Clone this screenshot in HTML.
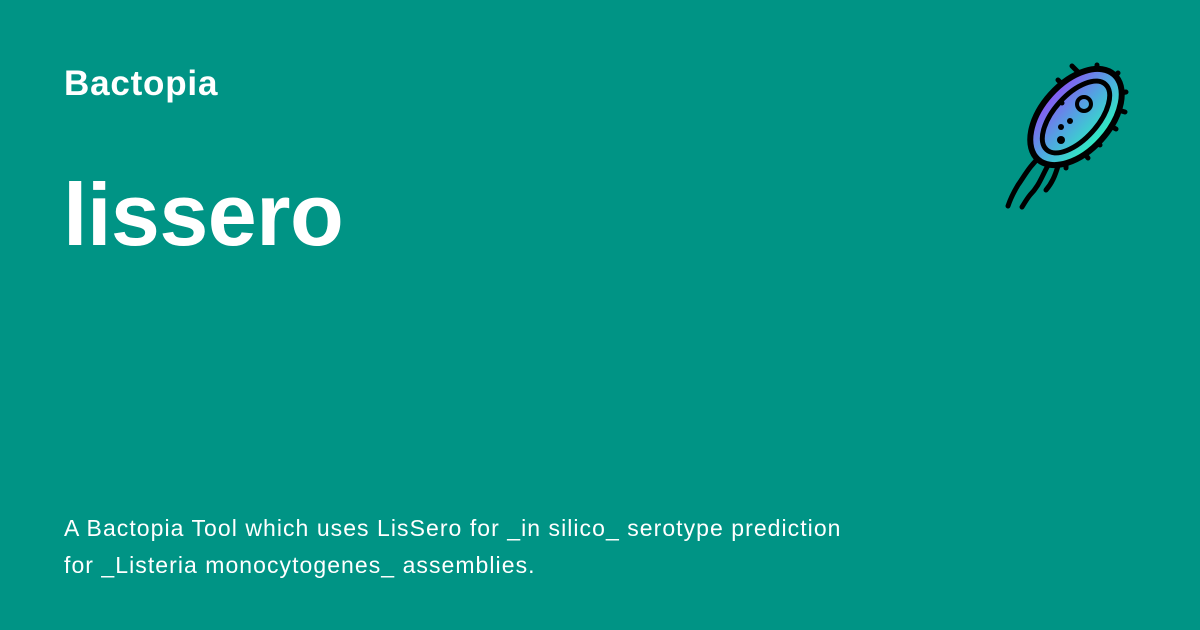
<!DOCTYPE html>
<html><head><meta charset="utf-8"><style>
html,body{margin:0;padding:0}
body{width:1200px;height:630px;background:#009485;position:relative;overflow:hidden;font-family:"Liberation Sans",sans-serif;color:#fff}
.b{position:absolute;left:64px;top:64px;font-size:35px;font-weight:bold;letter-spacing:0.8px}
.t{position:absolute;left:63px;top:164px;font-size:88px;font-weight:bold;letter-spacing:-0.5px}
.d{position:absolute;left:64px;top:510px;font-size:23px;line-height:37px;letter-spacing:1.05px}
</style></head><body>
<div class="b">Bactopia</div>
<div class="t">lissero</div>
<div class="d">A Bactopia Tool which uses LisSero for _in silico_ serotype prediction<br>for _Listeria monocytogenes_ assemblies.</div>
<svg style="position:absolute;left:0;top:0" width="1200" height="630">
<defs><linearGradient id="g" x1="0" y1="0" x2="0" y2="1">
<stop offset="0" stop-color="#8a55f5"/><stop offset="0.5" stop-color="#4fa8e0"/><stop offset="1" stop-color="#2ef0c0"/></linearGradient></defs>
<g stroke="#000" stroke-width="5" stroke-linecap="round" fill="none">
<path d="M1042 155 C1030 165 1025 175 1018 185 C1012 195 1010 200 1008 206"/>
<path d="M1050 162 C1042 175 1040 185 1030 195 C1026 200 1024 204 1022 207"/>
<path d="M1058 166 C1055 176 1052 183 1046 190"/>
<line x1="1072" y1="66" x2="1078" y2="72"/><line x1="1097" y1="65" x2="1097" y2="72"/>
<line x1="1118" y1="73" x2="1113" y2="78"/><line x1="1126" y1="92" x2="1120" y2="93"/>
<line x1="1125" y1="112" x2="1118" y2="110"/><line x1="1116" y1="129" x2="1109" y2="125"/>
<line x1="1100" y1="145" x2="1095" y2="140"/><line x1="1088" y1="158" x2="1084" y2="153"/>
<line x1="1058" y1="80" x2="1064" y2="86"/><line x1="1046" y1="100" x2="1053" y2="103"/>
<line x1="1033" y1="127" x2="1040" y2="127"/><line x1="1066" y1="168" x2="1066" y2="162"/>
</g>
<g transform="translate(1076,117) rotate(-48)">
<ellipse cx="0" cy="0" rx="57" ry="34" fill="url(#g)" stroke="#000" stroke-width="6"/>
<ellipse cx="0" cy="0" rx="44" ry="22" fill="none" stroke="#000" stroke-width="5"/>
</g>
<circle cx="1084" cy="104" r="7" fill="none" stroke="#000" stroke-width="4"/>
<circle cx="1070" cy="121" r="3" fill="#000"/><circle cx="1061" cy="127" r="3" fill="#000"/>
<circle cx="1061" cy="140" r="4" fill="#000"/><circle cx="1062" cy="103" r="2.5" fill="#000"/>
</svg>
</body></html>
